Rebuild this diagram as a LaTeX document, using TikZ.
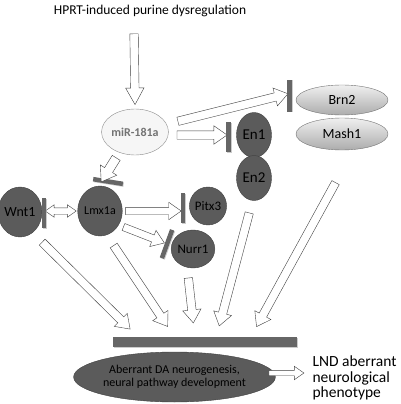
\documentclass[tikz,border=0pt]{standalone}
\usepackage{fontspec}
\setmainfont{Carlito}
\usetikzlibrary{shapes.arrows, shapes.geometric, calc, shadows}
\definecolor{genefill}{HTML}{5B5B5B}
\definecolor{barfill}{HTML}{666666}
\tikzset{
  gene/.style={ellipse, draw=black!75, fill=genefill, inner sep=0pt, font=\fontsize{13}{14}\selectfont},
  pale/.style={ellipse, draw=black!55, top color=gray!12, bottom color=gray!65, inner sep=0pt, minimum width=92pt, font=\fontsize{14}{15}\selectfont},
  blocker/.style={rectangle, fill=barfill, inner sep=0pt, minimum width=4.5pt, minimum height=30pt, drop shadow={shadow xshift=0.8pt, shadow yshift=-0.8pt, fill=gray!40, opacity=1}},
  hollow/.style={single arrow, draw=black!75, fill=white, inner xsep=0pt, inner ysep=4pt, single arrow head extend=5pt, single arrow tip angle=70},
}
\newcommand{\hollowarrow}[4][]{%
  \path let \p1=(#3), \p2=(#4), \n1={atan2(\y2-\y1,\x2-\x1)}, \n2={veclen(\x2-\x1,\y2-\y1)} in
    node[hollow, minimum height=\n2, rotate=\n1, #1] (#2) at ($(#3)!0.5!(#4)$) {};}

\begin{document}
\begin{tikzpicture}[x=1pt, y=-1pt]
  \useasboundingbox (0,0) rectangle (400,404);
  \node[font=\fontsize{13.5}{15}\selectfont] (title) at (150,11) {HPRT-induced purine dysregulation};

  \node[ellipse, draw=black!45, fill=gray!7, minimum width=61pt, minimum height=46pt, inner sep=0pt, font=\bfseries\fontsize{12}{13}\selectfont, text=black!55] (mir) at (135,132) {miR-181a};

  \node[pale, minimum height=30pt] (brn2) at (342,100) {Brn2};
  \node[pale, minimum height=32pt] (mash1) at (342,134) {Mash1};

  \node[gene, minimum width=35pt, minimum height=45pt, font=\fontsize{15}{16}\selectfont] (en1) at (254,135) {En1};
  \node[gene, minimum width=35pt, minimum height=45pt, font=\fontsize{15}{16}\selectfont] (en2) at (254,178) {En2};
  \node[gene, minimum width=36pt, minimum height=50pt, font=\fontsize{14}{15}\selectfont] (wnt1) at (20,212) {Wnt1};
  \node[gene, minimum width=36pt, minimum height=50pt, font=\fontsize{12}{13}\selectfont] (lmx1a) at (100,211) {Lmx1a};
  \node[gene, minimum width=36pt, minimum height=38pt] (pitx3) at (208,206) {Pitx3};
  \node[gene, minimum width=36pt, minimum height=38pt] (nurr1) at (193,249) {Nurr1};

  % inhibition bars
  \node[blocker, minimum height=32pt] (brn-bar) at (289.5,95.5) {};
  \node[blocker] (en-bar) at (228.5,137) {};
  \node[blocker] (wnt-bar) at (44,213) {};
  \node[blocker] (pitx-bar) at (183,208) {};
  \node[blocker, rotate=81] (lmx-bar) at (108,181.5) {};
  \node[blocker, rotate=-20] (nurr-bar) at (167,244) {};
  \node[blocker, minimum width=184pt, minimum height=10pt] (dev-bar) at (205,342) {};

  \node[gene, minimum width=174pt, minimum height=50pt, align=center, font=\fontsize{12}{13.5}\selectfont] (dev) at (174.5,377) {Aberrant DA neurogenesis,\\neural pathway development};
  \node[align=left, anchor=west, font=\fontsize{15.5}{15.5}\selectfont] (lnd) at (309,378) {LND aberrant\\neurological\\phenotype};

  % arrow ends
  \coordinate (top-s) at (134,30);
  \coordinate (mir-brn-s) at (175,122);
  \coordinate (mir-en-s) at (174,135);
  \coordinate (mir-lmx-s) at (118,155);
  \coordinate (mir-lmx-e) at (103,179);
  \coordinate (lmx-pitx-s) at (123,211);
  \coordinate (lmx-nurr-s) at (121,226);
  \coordinate (lmx-nurr-e) at (162,242);
  \coordinate (wnt-s) at (40,240);
  \coordinate (wnt-e) at (128,327);
  \coordinate (lmx-s) at (112,243);
  \coordinate (lmx-e) at (166,324);
  \coordinate (nurr-s) at (188,275);
  \coordinate (nurr-e) at (193,320);
  \coordinate (en-s) at (250,210);
  \coordinate (en-e) at (220,323);
  \coordinate (mash-s) at (337,180);
  \coordinate (mash-e) at (258,324);
  \coordinate (lnd-s) at (267,373);

  \hollowarrow[single arrow tip angle=58]{a-top}{top-s}{$(mir.north)+(0,-8)$}
  \hollowarrow{a-brn}{mir-brn-s}{$(brn-bar.west)+(-2,-1)$}
  \hollowarrow{a-en}{mir-en-s}{$(en-bar.west)+(-2,-2)$}
  \hollowarrow[inner ysep=4.5pt]{a-lmx}{mir-lmx-s}{mir-lmx-e}
  \hollowarrow[inner ysep=3.5pt]{a-pitx}{lmx-pitx-s}{$(pitx-bar.west)+(-2,3)$}
  \hollowarrow[inner ysep=3.5pt]{a-nurr}{lmx-nurr-s}{lmx-nurr-e}
  \hollowarrow{a-wnt}{wnt-s}{wnt-e}
  \hollowarrow{a-lmx-dev}{lmx-s}{lmx-e}
  \hollowarrow{a-nurr-dev}{nurr-s}{nurr-e}
  \hollowarrow{a-en-dev}{en-s}{en-e}
  \hollowarrow{a-mash-dev}{mash-s}{mash-e}
  \hollowarrow[inner ysep=2.5pt, single arrow head extend=4pt]{a-lnd}{lnd-s}{$(lnd.west)+(-7,-5)$}

  \node[double arrow, draw=black!75, fill=white, inner xsep=0pt, inner ysep=3pt, double arrow head extend=3pt, double arrow tip angle=70, minimum height=31pt] (wnt-lmx) at ($(wnt-bar)!0.5!(lmx1a.west)+(0,-1)$) {};
\end{tikzpicture}
\end{document}
